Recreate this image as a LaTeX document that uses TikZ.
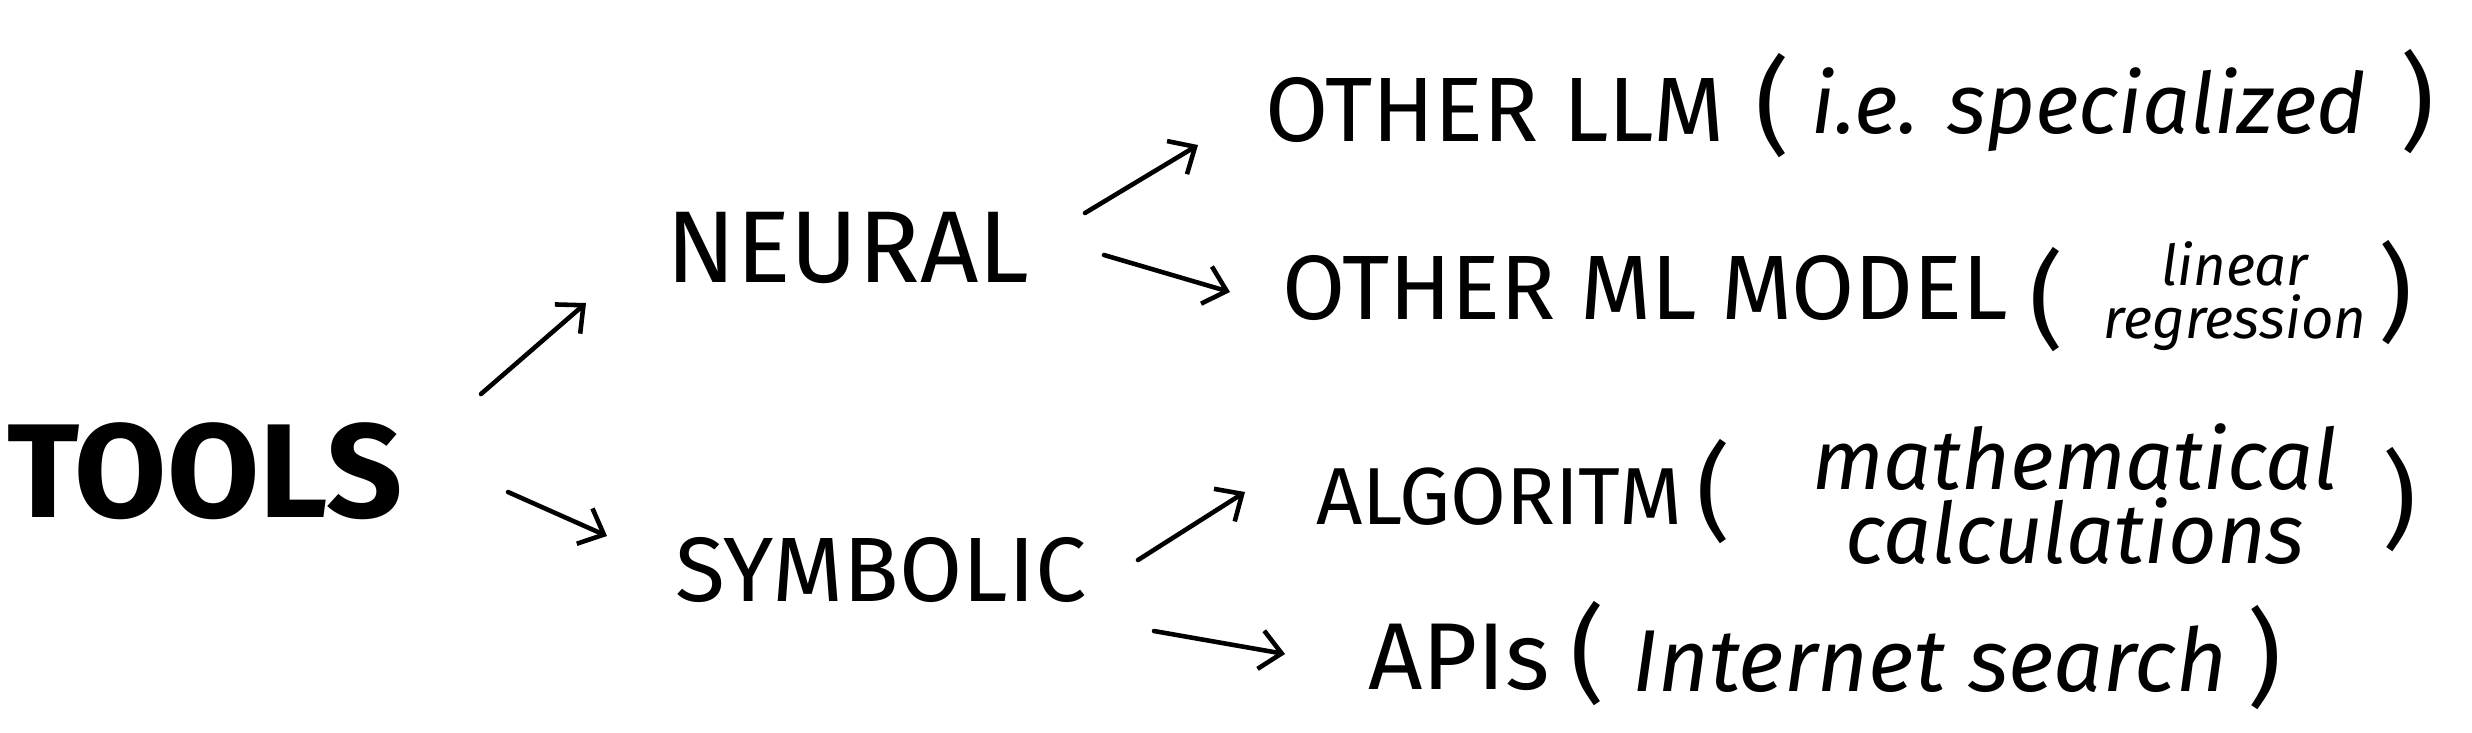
\documentclass[tikz,border=0pt]{standalone}
\usepackage{fontspec}
\setmainfont{Fira Sans}
\usetikzlibrary{arrows.meta,calc}
\tikzset{
  lbl/.style={inner sep=0pt, font=\fontsize{26}{26}\selectfont},
  note/.style={inner sep=0pt, align=center, font=\itshape\fontsize{24}{21}\selectfont},
  paren/.style={inner sep=0pt, font=\fontsize{30}{30}\selectfont},
  arr/.style={line width=1.3pt, line cap=round, line join=round, -{Straight Barb[length=6pt,width=11pt]}}
}
\begin{document}
\begin{tikzpicture}[x=0.01cm,y=-0.01cm]
\useasboundingbox (0,0) rectangle (2472,732);
% main labels
\node[lbl,font=\bfseries\fontsize{38}{38}\selectfont] (tools) at (205,471) {TOOLS};
\node[lbl,font=\fontsize{29}{29}\selectfont] (neural) at (848,248) {NEURAL};
\node[lbl] (symbolic) at (881,570) {SYMBOLIC};
\node[lbl] (llm) at (1495,110) {OTHER LLM};
\node[lbl] (ml) at (1645,288) {OTHER ML MODEL};
\node[lbl,font=\fontsize{23}{23}\selectfont] (alg) at (1499,497) {ALGORITM};
\node[lbl,font=\fontsize{27}{27}\selectfont] (api) at (1459,657) {APIs};
% notes
\node[paren] (l1) at (1773,106) {(};
\node[note] (n1) at (2089,110) {i.e. specialized};
\node[paren] (r1) at (2418,102) {)};
\node[paren] (l2) at (2047,300) {(};
\node[note,font=\itshape\fontsize{16}{15}\selectfont] (n2) at (2235,296) {linear\\regression};
\node[paren] (r2) at (2396,293) {)};
\node[paren] (l3) at (1714,492) {(};
\node[note] (n3) at (2075,494) {mathematical\\calculations};
\node[paren] (r3) at (2400,500) {)};
\node[paren] (l4) at (1588,654) {(};
\node[note,font=\itshape\fontsize{25}{25}\selectfont] (n4) at (1930,659) {Internet search};
\node[paren] (r4) at (2265,658) {)};
% arrows
\draw[arr] ($(tools)+(276,-77)$) -- ($(neural)+(-262,55)$);
\draw[arr] ($(tools)+(303,21)$) -- ($(symbolic)+(-274,-34)$);
\draw[arr] ($(neural)+(237,-35)$) -- ($(llm)+(-297,35)$);
\draw[arr] ($(neural)+(256,7)$) -- ($(ml)+(-415,4)$);
\draw[arr] ($(symbolic)+(257,-10)$) -- ($(alg)+(-254,-5)$);
\draw[arr] ($(symbolic)+(273,61)$) -- ($(api)+(-174,-3)$);
\end{tikzpicture}
\end{document}
